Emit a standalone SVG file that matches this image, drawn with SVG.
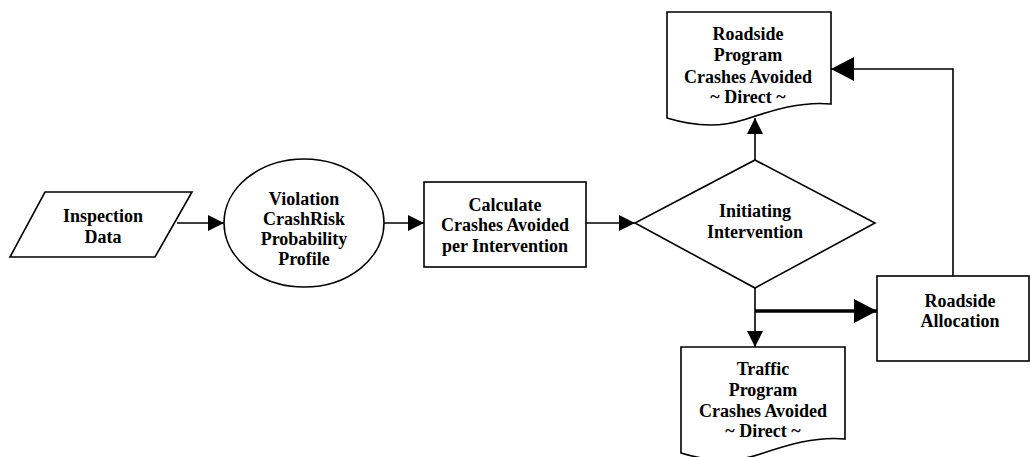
<svg xmlns="http://www.w3.org/2000/svg" width="1031" height="457" viewBox="0 0 1031 457">
<style>
.s{fill:#fff;stroke:#000;stroke-width:1.6}
.t{font-family:'Liberation Serif',Tinos,'Times New Roman','DejaVu Serif',serif;font-weight:bold;font-size:18px;text-anchor:middle;fill:#000}
.c{fill:none;stroke:#000;stroke-width:1.6}
.ck{fill:none;stroke:#000;stroke-width:3.5}
</style>
<defs>
<marker id="a" markerUnits="userSpaceOnUse" markerWidth="17" markerHeight="17" refX="16" refY="8" orient="auto"><path d="M0,0 L16,8 L0,16 Z" fill="#000"/></marker>
<marker id="b" markerUnits="userSpaceOnUse" markerWidth="24" markerHeight="25" refX="23" refY="12" orient="auto"><path d="M0,0 L23,12 L0,24 Z" fill="#000"/></marker>
<path id="doc" d="M0,0 H164 V92 C131,89 101,100 76,108 C51,116 26,114 0,106 Z"/>
</defs>
<g id="connectors">
<line class="c" x1="177" y1="223" x2="224" y2="223" marker-end="url(#a)"/>
<line class="c" x1="384" y1="223" x2="424" y2="223" marker-end="url(#a)"/>
<line class="c" x1="586" y1="223" x2="635" y2="223" marker-end="url(#a)"/>
<line class="c" x1="755" y1="160" x2="755" y2="118" marker-end="url(#a)"/>
<line class="c" x1="755" y1="288" x2="755" y2="347" marker-end="url(#a)"/>
<line class="ck" x1="755" y1="311" x2="877" y2="311" marker-end="url(#b)"/>
<polyline class="c" points="953,276 953,69 831,69" marker-end="url(#b)"/>
</g>
<g id="inspection">
<polygon class="s" points="45,192 192,192 155,257 10,257"/>
<text class="t" x="103" y="222" font-family="Liberation Serif, serif">Inspection</text>
<text class="t" x="103" y="243">Data</text>
</g>
<g id="violation">
<ellipse class="s" cx="304" cy="223" rx="80" ry="64"/>
<text class="t" x="304" y="205">Violation</text>
<text class="t" x="304" y="225">CrashRisk</text>
<text class="t" x="304" y="245">Probability</text>
<text class="t" x="304" y="265">Profile</text>
</g>
<g id="calculate">
<rect class="s" x="424" y="182" width="162" height="85"/>
<text class="t" x="505" y="211">Calculate</text>
<text class="t" x="505" y="231">Crashes Avoided</text>
<text class="t" x="505" y="252">per Intervention</text>
</g>
<g id="initiating">
<polygon class="s" points="755,160 875,223 755,288 635,223"/>
<text class="t" x="755" y="217">Initiating</text>
<text class="t" x="755" y="238">Intervention</text>
</g>
<g id="roadside-program">
<use href="#doc" class="s" transform="translate(667,12)"/>
<text class="t" x="748" y="40">Roadside</text>
<text class="t" x="748" y="61">Program</text>
<text class="t" x="748" y="83">Crashes Avoided</text>
<text class="t" x="748" y="103">~ Direct ~</text>
</g>
<g id="traffic-program">
<use href="#doc" class="s" transform="translate(681,347)"/>
<text class="t" x="763" y="375">Traffic</text>
<text class="t" x="763" y="396">Program</text>
<text class="t" x="763" y="417">Crashes Avoided</text>
<text class="t" x="763" y="437">~ Direct ~</text>
</g>
<g id="roadside-allocation">
<rect class="s" x="877" y="276" width="152" height="85"/>
<text class="t" x="960" y="307">Roadside</text>
<text class="t" x="960" y="327">Allocation</text>
</g>
</svg>
